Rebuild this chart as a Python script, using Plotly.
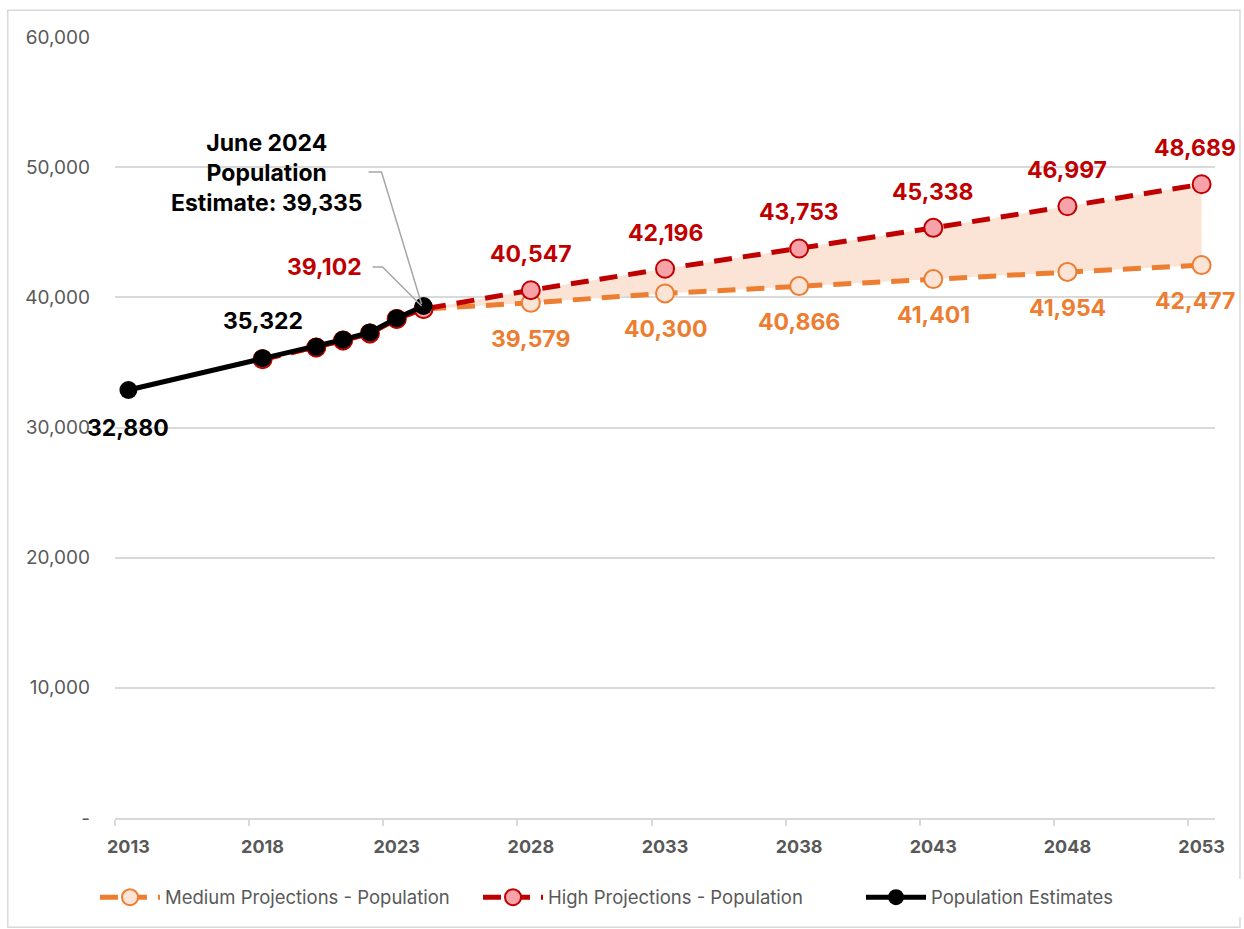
import plotly.graph_objects as go

# ---------------- data ----------------
est_years = [2013, 2018, 2020, 2021, 2022, 2023, 2024]
est_values = [32880, 35322, 36200, 36750, 37300, 38400, 39335]

proj_years = [2018, 2020, 2021, 2022, 2023, 2024, 2028, 2033, 2038, 2043, 2048, 2053]
high_values = [35240, 36150, 36680, 37230, 38340, 39102, 40547, 42196, 43753, 45338, 46997, 48689]
medium_values = [35240, 36150, 36680, 37230, 38340, 39102, 39579, 40300, 40866, 41401, 41954, 42477]

tick_years = [2013, 2018, 2023, 2028, 2033, 2038, 2043, 2048, 2053]
tick_labels = ["2013", "2018", "2023", "2028", "2033", "2038", "2043", "2048", "2053"]
y_ticks = [0, 10000, 20000, 30000, 40000, 50000, 60000]
y_labels = ["-", "10,000", "20,000", "30,000", "40,000", "50,000", "60,000"]

labelled_est_years = [2013, 2018]
labelled_proj_years = [2028, 2033, 2038, 2043, 2048, 2053]
estimate_year = 2024

names = ["Medium Projections - Population", "High Projections - Population", "Population Estimates"]

# ---------------- styles ----------------
RED = "#C00000"
ORANGE = "#ED7D31"
PEACH = "#FBE4D6"
PINK = "#F7A1A8"
GRID = "#D9D9D9"
FONT = "Inter"

fig = go.Figure()

# shaded band between medium and high (from the last estimate onwards)
band_x = [x for x in proj_years if x >= estimate_year]
band_med = [v for x, v in zip(proj_years, medium_values) if x >= estimate_year]
band_high = [v for x, v in zip(proj_years, high_values) if x >= estimate_year]
fig.add_trace(go.Scatter(x=band_x, y=band_med, mode="lines", line=dict(width=0),
                         showlegend=False, hoverinfo="skip"))
fig.add_trace(go.Scatter(x=band_x, y=band_high, mode="lines", line=dict(width=0),
                         fill="tonexty", fillcolor=PEACH, showlegend=False, hoverinfo="skip"))

fig.add_trace(go.Scatter(
    x=proj_years, y=medium_values, name=names[0], mode="lines+markers",
    line=dict(color=ORANGE, width=5, dash="18px,11px"),
    marker=dict(size=18, color=PEACH, line=dict(color=ORANGE, width=2)),
))
fig.add_trace(go.Scatter(
    x=proj_years, y=high_values, name=names[1], mode="lines+markers",
    line=dict(color=RED, width=5, dash="18px,11px"),
    marker=dict(size=18, color=PINK, line=dict(color=RED, width=2)),
))
fig.add_trace(go.Scatter(
    x=est_years, y=est_values, name=names[2], mode="lines+markers",
    line=dict(color="#000000", width=5),
    marker=dict(size=18, color="#000000"),
))

annotations = []
label_font = dict(family=FONT, size=23)

# estimate labels
for yr, val in zip(est_years, est_values):
    if yr in labelled_est_years:
        shift = -38 if yr == est_years[0] else 37
        annotations.append(dict(x=yr, y=val, text=f"{val:,}", showarrow=False,
                                font=dict(label_font, color="#000000", weight="bold"),
                                yshift=shift, xshift=0))

# projection labels
for yr, hv, mv in zip(proj_years, high_values, medium_values):
    if yr in labelled_proj_years:
        xs = -7 if yr == proj_years[-1] else 0
        annotations.append(dict(x=yr, y=hv, text=f"{hv:,}", showarrow=False,
                                font=dict(label_font, color=RED, weight="bold"),
                                yshift=36, xshift=xs))
        annotations.append(dict(x=yr, y=mv, text=f"{mv:,}", showarrow=False,
                                font=dict(label_font, color=ORANGE, weight="bold"),
                                yshift=-36, xshift=xs))

# 2024 high-projection label
i24 = proj_years.index(estimate_year)
annotations.append(dict(x=estimate_year, y=high_values[i24], text=f"{high_values[i24]:,}",
                        showarrow=False, font=dict(label_font, color=RED, weight="bold"),
                        xshift=-99, yshift=42))
# June 2024 estimate callout
e24 = est_years.index(estimate_year)
annotations.append(dict(x=estimate_year, y=est_values[e24],
                        text=f"June {estimate_year}<br>Population<br>Estimate: {est_values[e24]:,}",
                        showarrow=False, align="center",
                        font=dict(family=FONT, size=23, color="#000000", weight="bold"),
                        xshift=-157, yshift=133))

shapes = [
    # leader line for the June 2024 callout
    dict(type="path", xref="x", yref="y", xsizemode="pixel", ysizemode="pixel",
         xanchor=estimate_year, yanchor=est_values[e24],
         path="M -55 134 L -42 134 L -2 2", line=dict(color="#A6A6A6", width=1.5)),
    # leader line for 39,102
    dict(type="path", xref="x", yref="y", xsizemode="pixel", ysizemode="pixel",
         xanchor=estimate_year, yanchor=high_values[i24],
         path="M -51 42 L -41 42 L -2 3", line=dict(color="#A6A6A6", width=1.5)),
    # chart border
    dict(type="rect", xref="paper", yref="paper", x0=-0.0975, x1=1.0227, y0=-0.14, y1=1.0344,
         line=dict(color=GRID, width=1.5), fillcolor="rgba(0,0,0,0)", layer="below"),
]

fig.update_layout(
    width=1244, height=929,
    margin=dict(l=115, r=29, t=37, b=107),
    paper_bgcolor="white", plot_bgcolor="white",
    font=dict(family=FONT, color="#595959"),
    showlegend=True,
    legend=dict(orientation="h", xref="paper", yref="paper",
                x=-0.006, y=-0.102, xanchor="left", yanchor="middle",
                font=dict(family=FONT, size=18.5, color="#595959"),
                traceorder="normal", itemwidth=60,
                entrywidth=308, entrywidthmode="pixels"),
    annotations=annotations,
    shapes=shapes,
    xaxis=dict(range=[2012.5, 2053.5], tickvals=tick_years, ticktext=tick_labels,
               ticks="", showgrid=False, zeroline=False,
               showline=True, linecolor=GRID, linewidth=2,
               tickfont=dict(family=FONT, size=18, color="#595959", weight="bold"),
               ticklabelstandoff=11,
               minor=dict(tick0=2012.5, dtick=5, ticks="outside", ticklen=6,
                          tickcolor=GRID, tickwidth=2, showgrid=False)),
    yaxis=dict(range=[0, 60000], tickvals=y_ticks, ticktext=y_labels,
               showgrid=True, gridcolor=GRID, gridwidth=1.5, zeroline=False,
               showline=False, ticks="",
               tickfont=dict(family=FONT, size=19, color="#595959"),
               ticklabelstandoff=24),
)

fig.write_html("out.html")
